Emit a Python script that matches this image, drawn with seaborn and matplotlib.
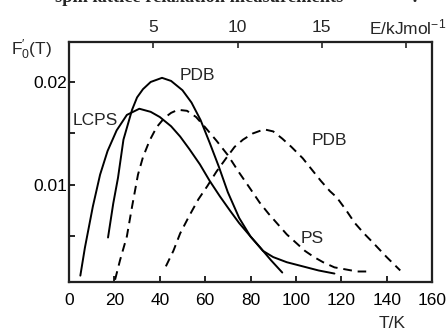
import numpy as np
import pandas as pd
import seaborn as sns
import matplotlib.pyplot as plt

# curves: T in K, F0'(T)
lcps_T = [5, 7, 10.5, 13.7, 17, 21, 25.5, 31, 36, 40, 45, 49, 53, 57.7, 62, 66.5,
          71, 75, 80, 85.5, 90, 96, 103, 110, 117]
lcps_F = [0.0012, 0.0039, 0.0079, 0.0110, 0.0133, 0.0153, 0.0168, 0.0174, 0.0171,
          0.0166, 0.0157, 0.0147, 0.0135, 0.0120, 0.0104, 0.0089, 0.0075, 0.0063,
          0.0050, 0.0036, 0.0030, 0.0025, 0.0021, 0.0017, 0.0014]

pdb_T = [17.2, 19.5, 21.6, 24, 27.8, 30, 32.6, 36, 41, 45, 50, 54, 58, 62, 66, 70,
         75, 80, 84, 89, 94]
pdb_F = [0.0049, 0.0082, 0.0107, 0.0144, 0.0173, 0.0185, 0.0193, 0.0200, 0.0204,
         0.0201, 0.0192, 0.0180, 0.0163, 0.0141, 0.0118, 0.0093, 0.0068, 0.0050,
         0.0040, 0.0027, 0.0015]

ps_T = [20.3, 22.5, 25.5, 27.8, 30.4, 32.6, 35.5, 38.6, 42, 45, 48, 52, 56, 60, 65,
        70, 75, 80, 84, 88, 92, 96, 100, 104, 108, 112, 117, 122, 127, 131]
ps_F = [0.0008, 0.0027, 0.0050, 0.0079, 0.0110, 0.0127, 0.0143, 0.0156, 0.0165,
        0.0170, 0.0173, 0.0172, 0.0166, 0.0156, 0.0143, 0.0129, 0.0112, 0.0096,
        0.0083, 0.0072, 0.0062, 0.0052, 0.0044, 0.0036, 0.0030, 0.0025, 0.0020,
        0.0018, 0.0016, 0.0016]

pdb2_T = [42.7, 46, 49, 53, 57, 61, 65, 69.6, 73, 76.7, 81, 86, 90, 94, 98, 103,
          107, 111, 115, 118, 122, 126, 130, 134, 140, 146]
pdb2_F = [0.0021, 0.0036, 0.0053, 0.0070, 0.0086, 0.0099, 0.0113, 0.0127, 0.0137,
          0.0144, 0.0150, 0.0154, 0.0152, 0.0145, 0.0137, 0.0126, 0.0115, 0.0104,
          0.0094, 0.0088, 0.0076, 0.0063, 0.0053, 0.0044, 0.0030, 0.0017]

x_ticks = [0, 20, 40, 60, 80, 100, 120, 140, 160]
e_ticks = [5, 10, 15, 20]
e_labels = ["5", "10", "15", ""]
y_ticks = [0.005, 0.01, 0.015, 0.02]
y_labels = ["", "0.01", "", "0.02"]

K_PER_5KJ = 37.15

sns.set_theme(style="ticks")
plt.rcParams['font.family'] = ['Liberation Sans', 'DejaVu Sans']
plt.rcParams['mathtext.fontset'] = 'custom'
plt.rcParams['mathtext.rm'] = 'Liberation Sans'
plt.rcParams['mathtext.it'] = 'Liberation Sans'

fig = plt.figure(figsize=(4.48, 3.3), dpi=100)
ax = fig.add_axes([69 / 448, 1 - 282 / 330, 363 / 448, 240 / 330])

solid = dict(color="black", linewidth=1.4, sort=False, estimator=None, ax=ax)
dashed = dict(solid, linestyle=(0, (4.5, 3)))

sns.lineplot(x=lcps_T, y=lcps_F, **solid)
sns.lineplot(x=pdb_T, y=pdb_F, **solid)
sns.lineplot(x=ps_T, y=ps_F, **dashed)
sns.lineplot(x=pdb2_T, y=pdb2_F, **dashed)

ax.set_xlim(0, 160)
ax.set_ylim(0.00058, 0.02388)
ax.set_xticks(x_ticks)
ax.set_xticklabels([str(t) for t in x_ticks])
ax.set_yticks(y_ticks)
ax.set_yticklabels(y_labels)
ax.tick_params(direction="in", length=4, width=1.2, labelsize=12.5, colors="black")
ax.tick_params(axis="x", pad=8)
ax.tick_params(axis="y", pad=1)
for s in ax.spines.values():
    s.set_linewidth(1.6)
    s.set_color("black")
    s.set_visible(True)

# top energy axis
ax2 = ax.twiny()
ax2.set_xlim(0, 160 * 5 / K_PER_5KJ)
ax2.set_xticks(e_ticks)
ax2.set_xticklabels(e_labels)
ax2.tick_params(direction="in", length=4, width=1.2, labelsize=12.5, pad=5)

ax.set_xlabel("")
ax.set_ylabel("")

fs = 12.5
ax.text(56.4, 0.02058, "PDB", fontsize=fs, ha="center", va="center")
ax.text(11.5, 0.0163, "LCPS", fontsize=fs, ha="center", va="center")
ax.text(114.6, 0.01427, "PDB", fontsize=fs, ha="center", va="center")
ax.text(107.1, 0.00476, "PS", fontsize=fs, ha="center", va="center")

fig.text(32 / 448, 1 - 50 / 330, r"F$_0'$(T)", fontsize=fs, ha="center", va="center")
fig.text(392 / 448, 1 - 323 / 330, "T/K", fontsize=fs, ha="center", va="center")
fig.text(446 / 448, 1 - 27 / 330, r"E/kJmol$^{-1}$", fontsize=fs, ha="right", va="center")

# cropped line of the page text above the figure (only its lower edge shows)
fig.text(343 / 448, 1 - 2 / 330, "spin lattice relaxation measurements",
         fontsize=13.2, fontweight="bold", family="Liberation Serif",
         ha="right", va="baseline")
fig.text(415 / 448, 1 - 2 / 330, ":", fontsize=13.2, fontweight="bold",
         family="Liberation Serif", ha="center", va="baseline")

fig.savefig("out.png", dpi=100)
